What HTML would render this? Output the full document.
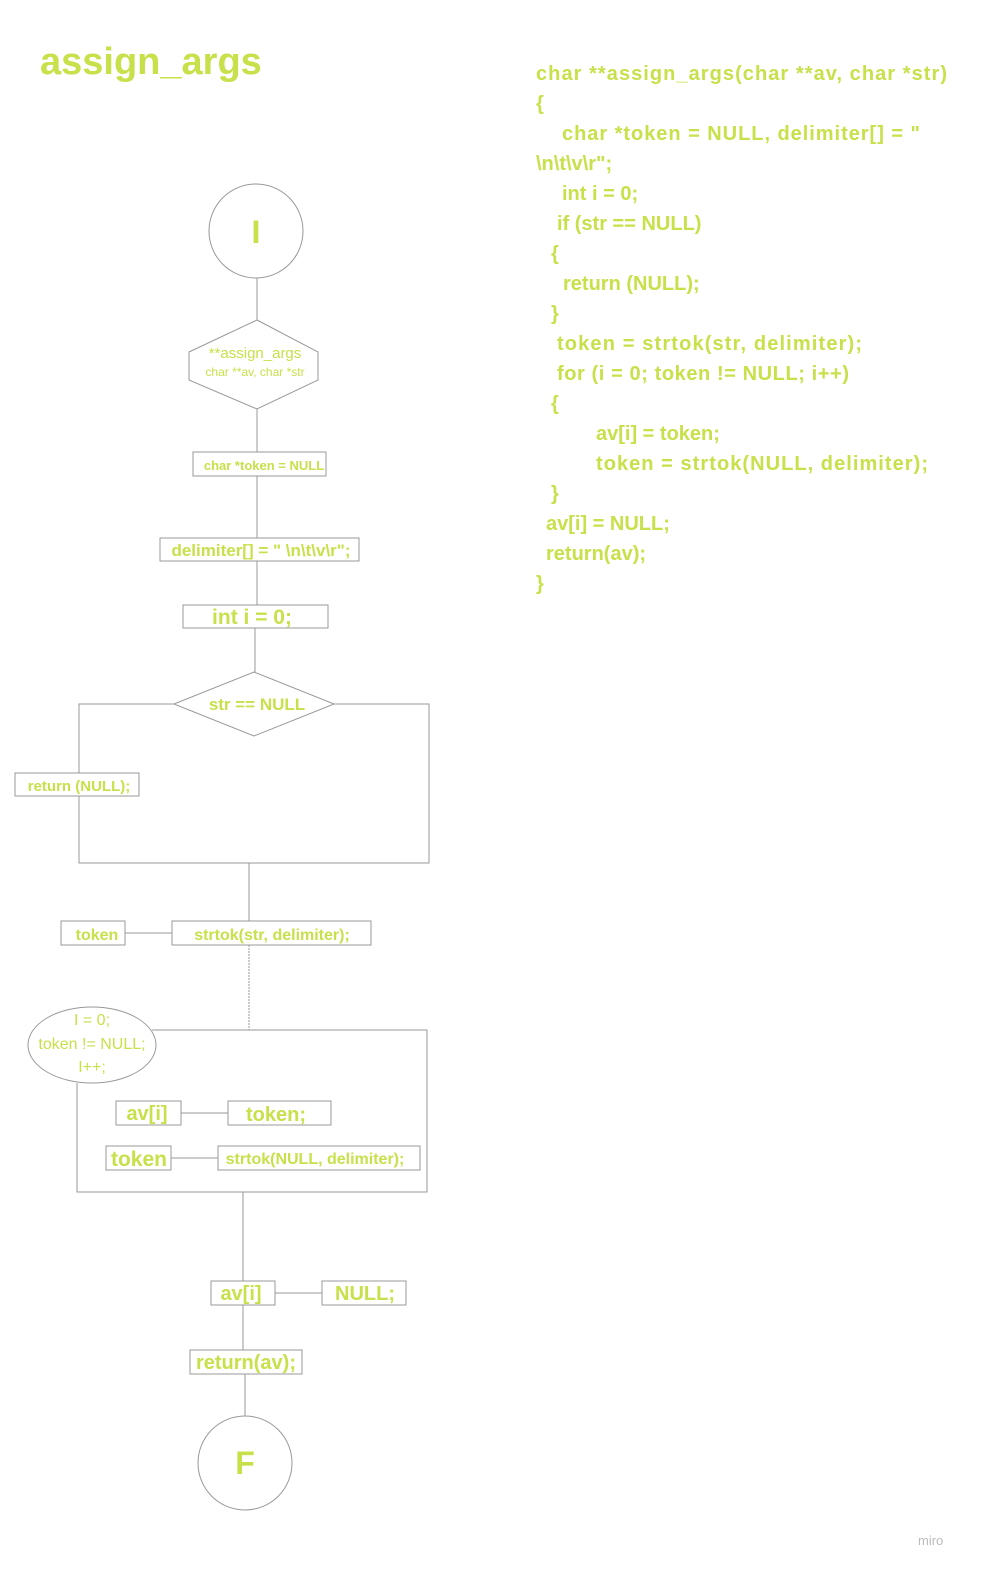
<!DOCTYPE html>
<html><head><meta charset="utf-8"><style>
html,body{margin:0;padding:0;background:#fff;overflow:hidden;width:984px;height:1587px;}
svg{display:block;}
text{font-family:"Liberation Sans",sans-serif;fill:#c8e04a;font-weight:bold;}
.n{font-weight:normal;}
</style></head><body>
<svg width="984" height="1587" viewBox="0 0 984 1587" xmlns="http://www.w3.org/2000/svg">
<g stroke="#999" stroke-width="1" fill="none">
<line x1="257" y1="278" x2="257" y2="320"/>
<line x1="257" y1="409" x2="257" y2="452"/>
<line x1="257" y1="476" x2="257" y2="538"/>
<line x1="257" y1="561" x2="257" y2="605"/>
<line x1="255" y1="628" x2="255" y2="672"/>
<circle cx="256" cy="231" r="47"/>
<polygon points="257,320 318,352 318,380 257,409 189,380 189,352"/>
<rect x="193" y="452" width="133" height="24"/>
<rect x="160" y="538" width="199" height="23"/>
<rect x="183" y="605" width="145" height="23"/>
<polygon points="254,672 334,704 254,736 174,704"/>
<polyline points="174,704 79,704 79,773"/>
<polyline points="334,704 429,704 429,863 79,863 79,796"/>
<rect x="15" y="773" width="124" height="23"/>
<line x1="249" y1="863" x2="249" y2="921"/>
<rect x="61" y="921" width="64" height="24"/>
<line x1="125" y1="933" x2="172" y2="933"/>
<rect x="172" y="921" width="199" height="24"/>
<line x1="249" y1="945" x2="249" y2="1030" stroke-dasharray="2,1"/>
<ellipse cx="92" cy="1045" rx="64" ry="38"/>
<polyline points="152,1030 427,1030 427,1192 77,1192 77,1083"/>
<rect x="116" y="1101" width="65" height="24"/>
<line x1="181" y1="1113" x2="228" y2="1113"/>
<rect x="228" y="1101" width="103" height="24"/>
<rect x="106" y="1146" width="65" height="24"/>
<line x1="171" y1="1158" x2="218" y2="1158"/>
<rect x="218" y="1146" width="202" height="24"/>
<line x1="243" y1="1192" x2="243" y2="1281"/>
<rect x="211" y="1281" width="64" height="24"/>
<line x1="275" y1="1293" x2="322" y2="1293"/>
<rect x="322" y="1281" width="84" height="24"/>
<line x1="243" y1="1305" x2="243" y2="1350"/>
<rect x="190" y="1350" width="112" height="24"/>
<line x1="245" y1="1374" x2="245" y2="1416"/>
<circle cx="245" cy="1463" r="47"/>
</g>
<text x="40" y="74" font-size="38">assign_args</text>
<text x="256" y="243" font-size="32" text-anchor="middle">I</text>
<text class="n" x="255" y="358" font-size="15" text-anchor="middle">**assign_args</text>
<text class="n" x="255" y="376" font-size="12" text-anchor="middle">char **av, char *str</text>
<text x="264" y="470" font-size="13" text-anchor="middle">char *token = NULL</text>
<text x="261" y="556" font-size="17" text-anchor="middle">delimiter[] = " \n\t\v\r";</text>
<text x="252" y="624" font-size="21" text-anchor="middle">int i = 0;</text>
<text x="257" y="710" font-size="17" text-anchor="middle">str == NULL</text>
<text x="79" y="791" font-size="15" text-anchor="middle">return (NULL);</text>
<text x="97" y="940" font-size="16" text-anchor="middle">token</text>
<text x="272" y="940" font-size="16" text-anchor="middle">strtok(str, delimiter);</text>
<text class="n" x="92" y="1025" font-size="16" text-anchor="middle">I = 0;</text>
<text class="n" x="92" y="1049" font-size="16" text-anchor="middle">token != NULL;</text>
<text class="n" x="92" y="1072" font-size="16" text-anchor="middle">I++;</text>
<text x="147" y="1120" font-size="20" text-anchor="middle">av[i]</text>
<text x="276" y="1121" font-size="20" text-anchor="middle">token;</text>
<text x="139" y="1166" font-size="21" text-anchor="middle">token</text>
<text x="315" y="1164" font-size="16" text-anchor="middle">strtok(NULL, delimiter);</text>
<text x="241" y="1300" font-size="20" text-anchor="middle">av[i]</text>
<text x="365" y="1300" font-size="20" text-anchor="middle">NULL;</text>
<text x="246" y="1369" font-size="20" text-anchor="middle">return(av);</text>
<text x="245" y="1474" font-size="32" text-anchor="middle">F</text>
<g font-size="20">
<text x="536" y="80" textLength="411">char **assign_args(char **av, char *str)</text>
<text x="536" y="110">{</text>
<text x="562" y="140" textLength="358">char *token = NULL, delimiter[] = "</text>
<text x="536" y="170">\n\t\v\r";</text>
<text x="562" y="200">int i = 0;</text>
<text x="557" y="230">if (str == NULL)</text>
<text x="551" y="260">{</text>
<text x="563" y="290">return (NULL);</text>
<text x="551" y="320">}</text>
<text x="557" y="350" textLength="305">token = strtok(str, delimiter);</text>
<text x="557" y="380" textLength="292">for (i = 0; token != NULL; i++)</text>
<text x="551" y="410">{</text>
<text x="596" y="440">av[i] = token;</text>
<text x="596" y="470" textLength="332">token = strtok(NULL, delimiter);</text>
<text x="551" y="500">}</text>
<text x="546" y="530">av[i] = NULL;</text>
<text x="546" y="560">return(av);</text>
<text x="536" y="590">}</text>
</g>
<text class="n" x="918" y="1545" font-size="13" style="fill:#bbb">miro</text>
</svg>
</body></html>
